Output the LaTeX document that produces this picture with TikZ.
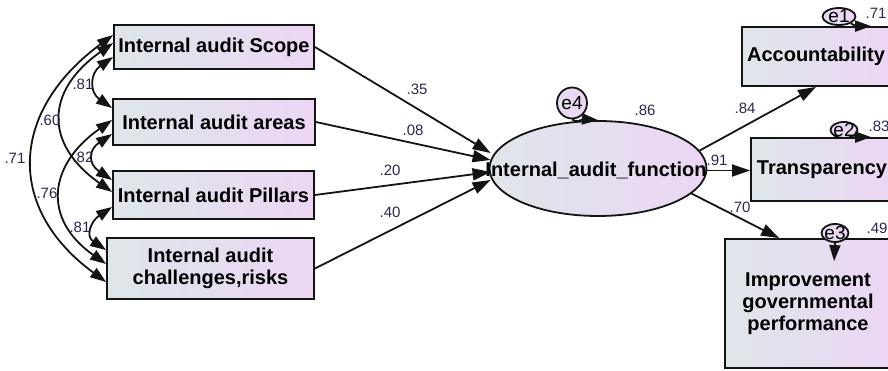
\documentclass[tikz,border=0pt]{standalone}
\usepackage{fontspec}
\setmainfont{Liberation Sans}
\usetikzlibrary{arrows.meta,calc,shapes.geometric}
\definecolor{gl}{RGB}{222,230,234}
\definecolor{gr}{RGB}{236,214,244}
\definecolor{lab}{RGB}{40,40,80}
\definecolor{edge}{RGB}{20,20,20}
\begin{document}
\begin{tikzpicture}[x=1pt,y=-1pt,line width=1.8pt,
  box/.style={draw=edge,rectangle,left color=gl,right color=gr,
    font=\bfseries\fontsize{20}{22}\selectfont,align=center,inner sep=0pt},
  err/.style={draw=edge,ellipse,inner sep=0pt,left color=gl!40!gr,right color=gr,
    label={[font=\fontsize{19}{20}\selectfont,inner sep=0pt]center:#1}},
  lbl/.style={font=\fontsize{15}{16}\selectfont,text=lab,inner sep=0pt},
  arr/.style={draw=edge,-{Triangle[length=18pt,width=12pt]}},
  earr/.style={draw=edge,-{Triangle[length=16pt,width=11pt]}},
  dbl/.style={draw=edge,{Triangle[length=16pt,width=11pt]}-{Triangle[length=16pt,width=11pt]}}]
\useasboundingbox (0,0) rectangle (888,371);
\clip (0,0) rectangle (888,371);

% observed predictors
\node[box,minimum width=200pt,minimum height=44pt] (scope) at (214,47) {Internal audit Scope};
\node[box,minimum width=202pt,minimum height=46pt] (areas) at (214,122) {Internal audit areas};
\node[box,minimum width=201pt,minimum height=48pt] (pillars) at (213.5,195) {Internal audit Pillars};
\node[box,minimum width=207pt,minimum height=61pt] (chall) at (210.5,268.5) {Internal audit\\challenges,risks};

% latent
\node[draw=edge,ellipse,minimum width=217pt,minimum height=95pt,inner sep=0pt,left color=gl,right color=gr] (iaf) at (598,168.5) {};
\node[font=\bfseries\fontsize{20}{22}\selectfont,inner sep=0pt] (iaftext) at (596,170) {Internal\_audit\_function};

% outcomes
\node[box,minimum width=148pt,minimum height=59pt] (acc) at (816,56.5) {Accountability};
\node[box,minimum width=142pt,minimum height=63pt] (trans) at (822,169.5) {Transparency};
\node[box,minimum width=166pt,minimum height=129pt] (imp) at (808,303.5) {Improvement\\governmental\\performance};

% errors
\node[err=e4,minimum width=30pt,minimum height=31pt] (e4) at (572,103) {};
\node[err=e1,minimum width=33pt,minimum height=17pt] (e1) at (839,16.5) {};
\node[err=e2,minimum width=27pt,minimum height=16pt] (e2) at (844,130) {};
\node[err=e3,minimum width=27pt,minimum height=18pt] (e3) at (835,233) {};

\coordinate (a1) at ($(acc.north west)+(130,0)$);
\coordinate (a2) at ($(trans.north west)+(121,0)$);
\coordinate (a3) at ($(imp.north west)+(110,23)$);

% regression paths
\draw[arr] (scope.east) -- ($(iaf.west)+(2,-15.5)$);
\draw[arr] (areas.east) -- ($(iaf.west)+(2,-8.5)$);
\draw[arr] (pillars.east) -- ($(iaf.west)+(2,3.5)$);
\draw[arr] (chall.east) -- ($(iaf.west)+(2,11.5)$);
\draw[arr] (iaf.10) -- (acc.south);
\draw[arr] ($(iaf.east)+(0,2)$) -- ($(iaf.east -| trans.west)+(0,2)$);
\draw[arr] (iaf.-15) -- ($(imp.north west)+(55,0)$);

% error paths
\draw[earr] (e4.south) .. controls +(4,4) and +(-14,-1) .. (iaf.north);
\draw[earr] (e1.-30) .. controls +(6,4) and +(-10,0) .. (a1);
\draw[earr] (e2.-30) .. controls +(6,4) and +(-10,0) .. (a2);
\draw[earr] (e3.south) -- (a3);

% covariances
\draw[dbl] ($(scope.west)+(0,10)$) .. controls +(-23,16) and +(-23,-16) .. ($(areas.west)+(0,-14)$);
\draw[dbl] ($(scope.west)+(0,-4)$) .. controls +(-68,48) and +(-68,-48) .. ($(pillars.west)+(0,-3)$);
\draw[dbl] ($(scope.west)+(0,-12)$) .. controls +(-102,75) and +(-102,-75) .. ($(chall.west)+(0,13.5)$);
\draw[dbl] ($(areas.west)+(0,12)$) .. controls +(-24,16) and +(-24,-16) .. ($(pillars.west)+(0,-15)$);
\draw[dbl] ($(areas.west)+(0,-2)$) .. controls +(-64,45) and +(-64,-45) .. ($(chall.west)+(0,-4.5)$);
\draw[dbl] ($(pillars.west)+(0,12)$) .. controls +(-21,14) and +(-21,-14) .. ($(chall.west)+(0,-18.5)$);

% labels
\node[lbl] (c1) at (83,84) {.81};
\node[lbl] (c2) at (50,120) {.60};
\node[lbl] (c3) at (15,158) {.71};
\node[lbl] (c4) at (83,157) {.82};
\node[lbl] (c5) at (47,193) {.76};
\node[lbl] (c6) at (80,227) {.81};
\node[lbl] (p1) at (417,89) {.35};
\node[lbl] (p2) at (413,130) {.08};
\node[lbl] (p3) at (390,170) {.20};
\node[lbl] (p4) at (390,212) {.40};
\node[lbl] (r4) at (645,110) {.86};
\node[lbl] (q1) at (745,108) {.84};
\node[lbl] (q2) at (717,160) {.91};
\node[lbl] (q3) at (740,207) {.70};
\node[lbl] (r1) at (876,13) {.71};
\node[lbl] (r2) at (879,126) {.83};
\node[lbl] (r3) at (877,228) {.49};
\end{tikzpicture}
\end{document}
